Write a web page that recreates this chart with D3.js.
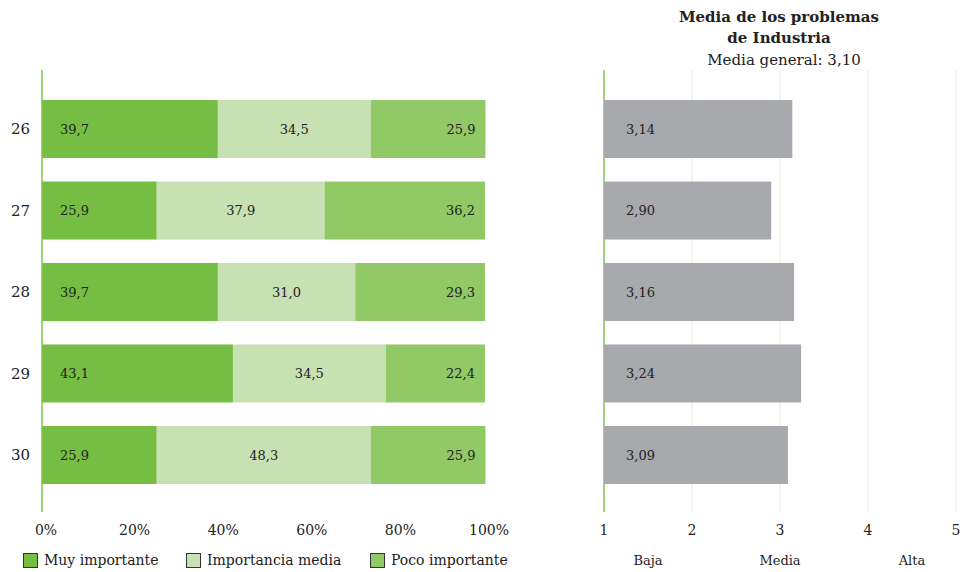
<!DOCTYPE html>
<html>
<head>
<meta charset="utf-8">
<script src="https://cdn.jsdelivr.net/npm/d3@7"></script>
<style>
  body { margin: 0; background: #fff; }
  svg { font-family: "DejaVu Serif", "Liberation Serif", serif; }
</style>
</head>
<body>
<div id="svg"></div>
<script>
// data
var rows = ["26", "27", "28", "29", "30"];
var series = ["Muy importante", "Importancia media", "Poco importante"];
var muy = [39.7, 25.9, 39.7, 43.1, 25.9];
var media = [34.5, 37.9, 31.0, 34.5, 48.3];
var poco = [25.9, 36.2, 29.3, 22.4, 25.9];
var means = [3.14, 2.90, 3.16, 3.24, 3.09];
var pctTicks = [0, 20, 40, 60, 80, 100];
var meanTicks = [1, 2, 3, 4, 5];
var levels = [{ label: "Baja", at: 1.5 }, { label: "Media", at: 3 }, { label: "Alta", at: 4.5 }];

var color = ["#76bd43", "#c8e1b2", "#90c965"];
var fmt = function (v, n) { return v.toFixed(n).replace(".", ","); };

var width = 964, height = 572;

var svg = d3.select("#svg").append("svg")
    .attr("width", width)
    .attr("height", height);

var y = d3.scaleBand()
    .domain(rows)
    .range([71, 513])
    .paddingInner(0.288)
    .paddingOuter(0.356);

// left: stacked percentages
var x = d3.scaleLinear().domain([0, 100]).range([42, 485]);

var table = rows.map(function (r, i) {
    return { row: r, "Muy importante": muy[i], "Importancia media": media[i], "Poco importante": poco[i] };
});
var stack = d3.stack().keys(series)(table);

var left = svg.append("g");

stack.forEach(function (s, k) {
    var g = left.append("g");
    g.selectAll("rect")
        .data(s)
        .enter().append("rect")
        .attr("x", function (d) { return x(d[0]); })
        .attr("y", function (d) { return y(d.data.row); })
        .attr("width", function (d) { return x(d[1]) - x(d[0]); })
        .attr("height", y.bandwidth())
        .attr("fill", color[k]);
    g.selectAll("text")
        .data(s)
        .enter().append("text")
        .attr("x", function (d) {
            if (k == 0) return x(d[0]) + 18;
            if (k == 1) return (x(d[0]) + x(d[1])) / 2;
            return x(d[1]) - 10;
        })
        .attr("y", function (d) { return y(d.data.row) + y.bandwidth() / 2; })
        .attr("dy", "0.35em")
        .attr("text-anchor", k == 0 ? "start" : (k == 1 ? "middle" : "end"))
        .style("font-size", "13px")
        .attr("fill", "#222")
        .text(function (d) { return fmt(d[1] - d[0], 1); });
});

left.append("line")
    .attr("x1", x(0)).attr("x2", x(0))
    .attr("y1", 70).attr("y2", 512)
    .attr("stroke", "#7ec54b")
    .attr("stroke-width", 1.5);

left.selectAll(".ylab")
    .data(rows)
    .enter().append("text")
    .attr("x", 30)
    .attr("y", function (d) { return y(d) + y.bandwidth() / 2; })
    .attr("dy", "0.35em")
    .attr("text-anchor", "end")
    .style("font-size", "15px")
    .attr("fill", "#222")
    .text(function (d) { return d; });

left.selectAll(".xlab")
    .data(pctTicks)
    .enter().append("text")
    .attr("x", function (d) { return x(d) + 4; })
    .attr("y", 535)
    .attr("text-anchor", "middle")
    .style("font-size", "14px")
    .attr("fill", "#222")
    .text(function (d) { return d + "%"; });

// legend
var legendX = [23, 186, 370];
series.forEach(function (s, k) {
    svg.append("rect")
        .attr("x", legendX[k] + 0.5)
        .attr("y", 553.5)
        .attr("width", 14)
        .attr("height", 14)
        .attr("fill", color[k])
        .attr("stroke", "#333")
        .attr("stroke-width", 1);
    svg.append("text")
        .attr("x", legendX[k] + 21)
        .attr("y", 565)
        .style("font-size", "14px")
        .attr("fill", "#222")
        .text(s);
});

// right: means
var xm = d3.scaleLinear().domain([1, 5]).range([604, 956]);
var right = svg.append("g");

right.selectAll(".grid")
    .data(meanTicks)
    .enter().append("line")
    .attr("x1", function (d) { return xm(d); })
    .attr("x2", function (d) { return xm(d); })
    .attr("y1", 70).attr("y2", 512)
    .attr("stroke", function (d) { return d == 1 ? "#7ec54b" : "#e3efd8"; })
    .attr("stroke-width", function (d) { return d == 1 ? 1.5 : 1; });

right.selectAll(".mbar")
    .data(means)
    .enter().append("rect")
    .attr("x", xm(1))
    .attr("y", function (d, i) { return y(rows[i]); })
    .attr("width", function (d) { return xm(d) - xm(1); })
    .attr("height", y.bandwidth())
    .attr("fill", "#a8a9ac");

right.selectAll(".mlab")
    .data(means)
    .enter().append("text")
    .attr("x", xm(1) + 22)
    .attr("y", function (d, i) { return y(rows[i]) + y.bandwidth() / 2; })
    .attr("dy", "0.35em")
    .style("font-size", "13px")
    .attr("fill", "#222")
    .text(function (d) { return fmt(d, 2); });

right.selectAll(".mtick")
    .data(meanTicks)
    .enter().append("text")
    .attr("x", function (d) { return xm(d); })
    .attr("y", 535)
    .attr("text-anchor", "middle")
    .style("font-size", "14px")
    .attr("fill", "#222")
    .text(function (d) { return d; });

right.selectAll(".lvl")
    .data(levels)
    .enter().append("text")
    .attr("x", function (d) { return xm(d.at); })
    .attr("y", 565)
    .attr("text-anchor", "middle")
    .style("font-size", "13px")
    .attr("fill", "#222")
    .text(function (d) { return d.label; });

// title
svg.append("text")
    .attr("x", 779).attr("y", 22)
    .attr("text-anchor", "middle")
    .style("font-size", "15px").style("font-weight", "bold")
    .attr("fill", "#222")
    .text("Media de los problemas");
svg.append("text")
    .attr("x", 779).attr("y", 43)
    .attr("text-anchor", "middle")
    .style("font-size", "15px").style("font-weight", "bold")
    .attr("fill", "#222")
    .text("de Industria");
svg.append("text")
    .attr("x", 784).attr("y", 65)
    .attr("text-anchor", "middle")
    .style("font-size", "15px")
    .attr("fill", "#222")
    .text("Media general: 3,10");
</script>
</body>
</html>
